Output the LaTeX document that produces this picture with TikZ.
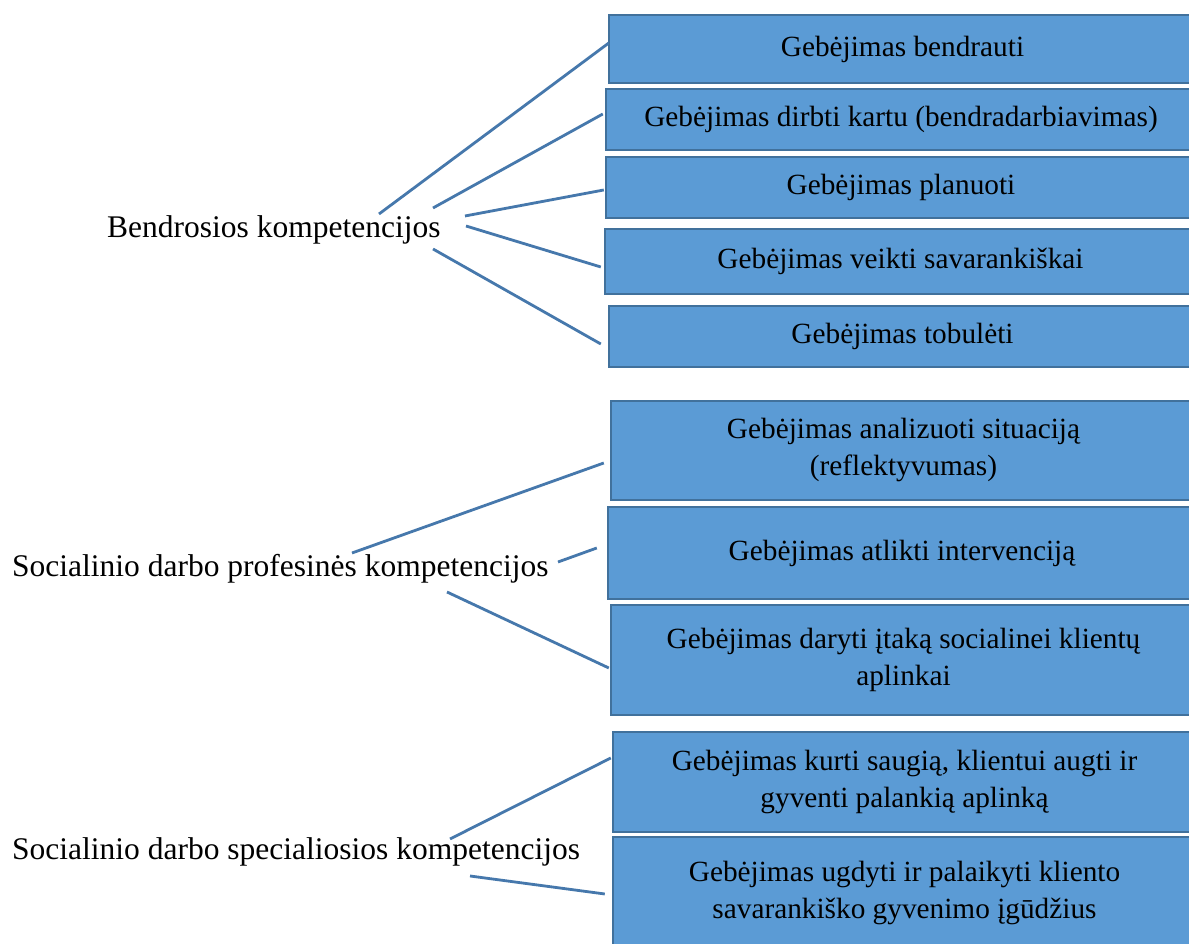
\documentclass[tikz,border=0pt]{standalone}
\usepackage{fontspec}
\setmainfont{Liberation Serif}
\definecolor{boxfill}{RGB}{91,155,213}
\definecolor{boxline}{RGB}{65,113,156}
\definecolor{connline}{RGB}{70,120,172}
\begin{document}
\begin{tikzpicture}[x=1pt,y=1pt,
  skill/.style={draw=boxline, fill=boxfill, line width=2.4pt, rectangle,
    inner sep=0pt, align=center, text=black,
    font=\fontsize{29.3}{37}\selectfont},
  group/.style={anchor=base west, inner sep=0pt, text=black,
    font=\fontsize{31.5}{38}\selectfont},
  conn/.style={draw=connline, line width=2.8pt}]

% page area
\fill[white] (0,0) rectangle (1189,944);
\useasboundingbox (0,0) rectangle (1189,944);
\clip (0,0) rectangle (1189,944);

% group labels
\node[group] (lab1) at (107,706) {Bendrosios kompetencijos};
\node[group] (lab2) at (12,367) {Socialinio darbo profesinės kompetencijos};
\node[group] (lab3) at (12,84) {Socialinio darbo specialiosios kompetencijos};

% skill boxes (right edges run off the page)
\node[skill, minimum width=587, minimum height=68]  (b1)  at (902.5,895)   {Gebėjimas bendrauti};
\node[skill, minimum width=590, minimum height=61]  (b2)  at (901,824.5)   {Gebėjimas dirbti kartu (bendradarbiavimas)};
\node[skill, minimum width=590, minimum height=61]  (b3)  at (901,756.5)   {Gebėjimas planuoti};
\node[skill, minimum width=591, minimum height=65]  (b4)  at (900.5,682.5) {Gebėjimas veikti savarankiškai};
\node[skill, minimum width=587, minimum height=61]  (b5)  at (902.5,607.5) {Gebėjimas tobulėti};
\node[skill, minimum width=585, minimum height=99]  (b6)  at (903.5,493.5) {Gebėjimas analizuoti situaciją\\(reflektyvumas)};
\node[skill, minimum width=588, minimum height=92]  (b7)  at (902,391)     {Gebėjimas atlikti intervenciją};
\node[skill, minimum width=585, minimum height=110] (b8)  at (903.5,284)   {Gebėjimas daryti įtaką socialinei klientų\\aplinkai};
\node[skill, minimum width=583, minimum height=100] (b9)  at (904.5,162)   {Gebėjimas kurti saugią, klientui augti ir\\gyventi palankią aplinką};
\node[skill, minimum width=583, minimum height=112] (b10) at (904.5,51)    {Gebėjimas ugdyti ir palaikyti kliento\\savarankiško gyvenimo įgūdžius};

% connectors
\draw[conn] ([shift={(272,24)}]lab1.base west) -- ([shift={(1,6)}]b1.west);
\draw[conn] ([shift={(326,30)}]lab1.base west) -- ([shift={(-2,5.5)}]b2.west);
\draw[conn] ([shift={(358,22)}]lab1.base west) -- ([shift={(-1,-2.5)}]b3.west);
\draw[conn] ([shift={(359,12)}]lab1.base west) -- ([shift={(-3,-5.5)}]b4.west);
\draw[conn] ([shift={(326,-11)}]lab1.base west) -- ([shift={(-7,-7.5)}]b5.west);

\draw[conn] ([shift={(340,24)}]lab2.base west) -- ([shift={(-6,-12.5)}]b6.west);
\draw[conn] ([shift={(546,15)}]lab2.base west) -- ([shift={(-10,5)}]b7.west);
\draw[conn] ([shift={(435,-15)}]lab2.base west) -- ([shift={(-1,-8)}]b8.west);

\draw[conn] ([shift={(438,21)}]lab3.base west) -- ([shift={(-1,24)}]b9.west);
\draw[conn] ([shift={(458,-16)}]lab3.base west) -- ([shift={(-7,-1)}]b10.west);
\end{tikzpicture}
\end{document}
